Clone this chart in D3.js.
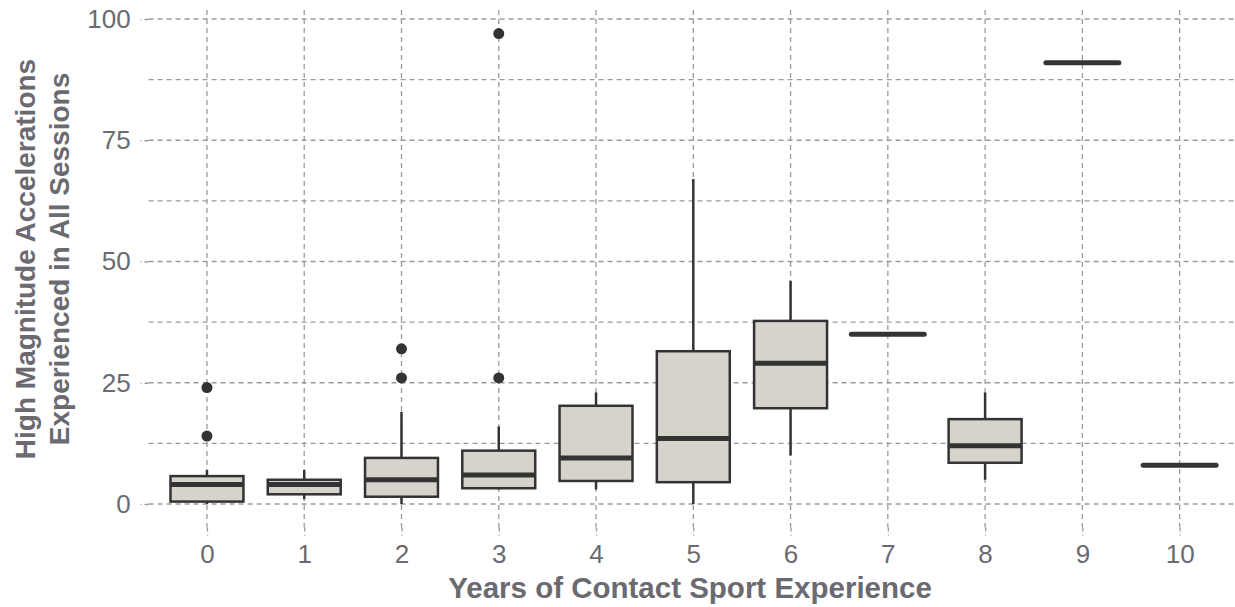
<html>
<script src="https://d3js.org/d3.v7.min.js"></script>
<body style="margin:0;background:#fff">
<div id="dataviz"></div>
<script>

// years of contact sport experience (x categories)
var years = ["0","1","2","3","4","5","6","7","8","9","10"];
// box stats
var whiskerLow  = [0,   1, 0,   3,    3,    0,    10,    35, 5,    91, 8];
var q1          = [0.5, 2, 1.5, 3.25, 4.75, 4.5,  19.75, 35, 8.5,  91, 8];
var median      = [4,   4, 5,   6,    9.5,  13.5, 29,    35, 12,   91, 8];
var q3          = [5.75,5, 9.5, 11,   20.25,31.5, 37.75, 35, 17.5, 91, 8];
var whiskerHigh = [7,   7, 19,  16,   23,   67,   46,    35, 23,   91, 8];
// outliers
var outYears  = ["0","0","2","2","3","3"];
var outValues = [14, 24, 26, 32, 26, 97];
var yTicks = [0,25,50,75,100];
var yMinor = [12.5,37.5,62.5,87.5];

var width = 1235, height = 607;
var panelLeft = 148.6, panelRight = 1238, panelTop = 10, panelBottom = 527.5;
var gridColor = "#9a9a9a";
var textColor = "#6b6a70";

var boxes = years.map(function(d,i){
  return {year:d, lo:whiskerLow[i], q1:q1[i], med:median[i], q3:q3[i], hi:whiskerHigh[i]};
});
var outliers = outYears.map(function(d,i){ return {year:d, value:outValues[i]}; });

var x = d3.scalePoint().domain(years).range([panelLeft, panelRight]).padding(0.6);
var y = d3.scaleLinear().domain([0,100]).range([504,19]);
var boxW = x.step()*0.75;

var svg = d3.select("#dataviz").append("svg")
  .attr("width", width).attr("height", height)
  .style("font-family","'Liberation Sans', Arial, sans-serif");

// grid
svg.append("g").selectAll("line").data(yMinor).enter().append("line")
  .attr("x1", panelLeft).attr("x2", panelRight)
  .attr("y1", function(d){ return y(d); }).attr("y2", function(d){ return y(d); })
  .attr("stroke", gridColor).attr("stroke-width",1.1).attr("stroke-dasharray","5,4");
svg.append("g").selectAll("line").data(yTicks).enter().append("line")
  .attr("x1", panelLeft).attr("x2", panelRight)
  .attr("y1", function(d){ return y(d); }).attr("y2", function(d){ return y(d); })
  .attr("stroke", gridColor).attr("stroke-width",1.3).attr("stroke-dasharray","5,4");
svg.append("g").selectAll("line").data(years).enter().append("line")
  .attr("x1", function(d){ return x(d); }).attr("x2", function(d){ return x(d); })
  .attr("y1", panelTop).attr("y2", panelBottom)
  .attr("stroke", gridColor).attr("stroke-width",1.3).attr("stroke-dasharray","5,4");

// axes
var yAxis = svg.append("g")
  .attr("transform","translate("+panelLeft+",0)")
  .call(d3.axisLeft(y).tickValues(yTicks).tickSize(8).tickPadding(10));
var xAxis = svg.append("g")
  .attr("transform","translate(0,"+panelBottom+")")
  .call(d3.axisBottom(x).tickSize(8).tickPadding(9.5));
[yAxis, xAxis].forEach(function(a){
  a.select(".domain").remove();
  a.selectAll("line").attr("stroke", gridColor).attr("stroke-width",1.3).attr("stroke-dasharray","4,3");
  a.selectAll("text").attr("fill", textColor).style("font-size","26px");
});

// boxes
var g = svg.append("g");
var b = g.selectAll("g.box").data(boxes).enter().append("g").attr("class","box");
b.append("line")
  .attr("x1", function(d){ return x(d.year); }).attr("x2", function(d){ return x(d.year); })
  .attr("y1", function(d){ return y(d.hi); }).attr("y2", function(d){ return y(d.q3); })
  .attr("stroke","#333").attr("stroke-width",2.5);
b.append("line")
  .attr("x1", function(d){ return x(d.year); }).attr("x2", function(d){ return x(d.year); })
  .attr("y1", function(d){ return y(d.q1); }).attr("y2", function(d){ return y(d.lo); })
  .attr("stroke","#333").attr("stroke-width",2.5);
b.filter(function(d){ return d.q3 > d.q1; }).append("rect")
  .attr("x", function(d){ return x(d.year)-boxW/2; })
  .attr("width", boxW)
  .attr("y", function(d){ return y(d.q3); })
  .attr("height", function(d){ return y(d.q1)-y(d.q3); })
  .attr("fill","#d6d2cc").attr("stroke","#333").attr("stroke-width",2.5);
b.append("line")
  .attr("x1", function(d){ return x(d.year)-boxW/2; })
  .attr("x2", function(d){ return x(d.year)+boxW/2; })
  .attr("y1", function(d){ return y(d.med); }).attr("y2", function(d){ return y(d.med); })
  .attr("stroke","#333").attr("stroke-width",5)
  .attr("stroke-linecap", function(d){ return d.q3 > d.q1 ? "butt" : "round"; });

// outliers
g.selectAll("circle").data(outliers).enter().append("circle")
  .attr("cx", function(d){ return x(d.year); })
  .attr("cy", function(d){ return y(d.value); })
  .attr("r", 5.5).attr("fill","#333");

// axis titles
svg.append("text")
  .attr("x", 690).attr("y", 598)
  .attr("text-anchor","middle")
  .attr("fill", textColor).style("font-size","29.5px").style("font-weight","bold")
  .text("Years of Contact Sport Experience");

var yt = svg.append("text")
  .attr("transform","translate(0,259) rotate(-90)")
  .attr("text-anchor","middle")
  .attr("fill", textColor).style("font-size","28px").style("font-weight","bold");
yt.append("tspan").attr("x",0).attr("y",35).text("High Magnitude Accelerations");
yt.append("tspan").attr("x",0).attr("y",69).text("Experienced in All Sessions");

</script>
</body>
</html>
